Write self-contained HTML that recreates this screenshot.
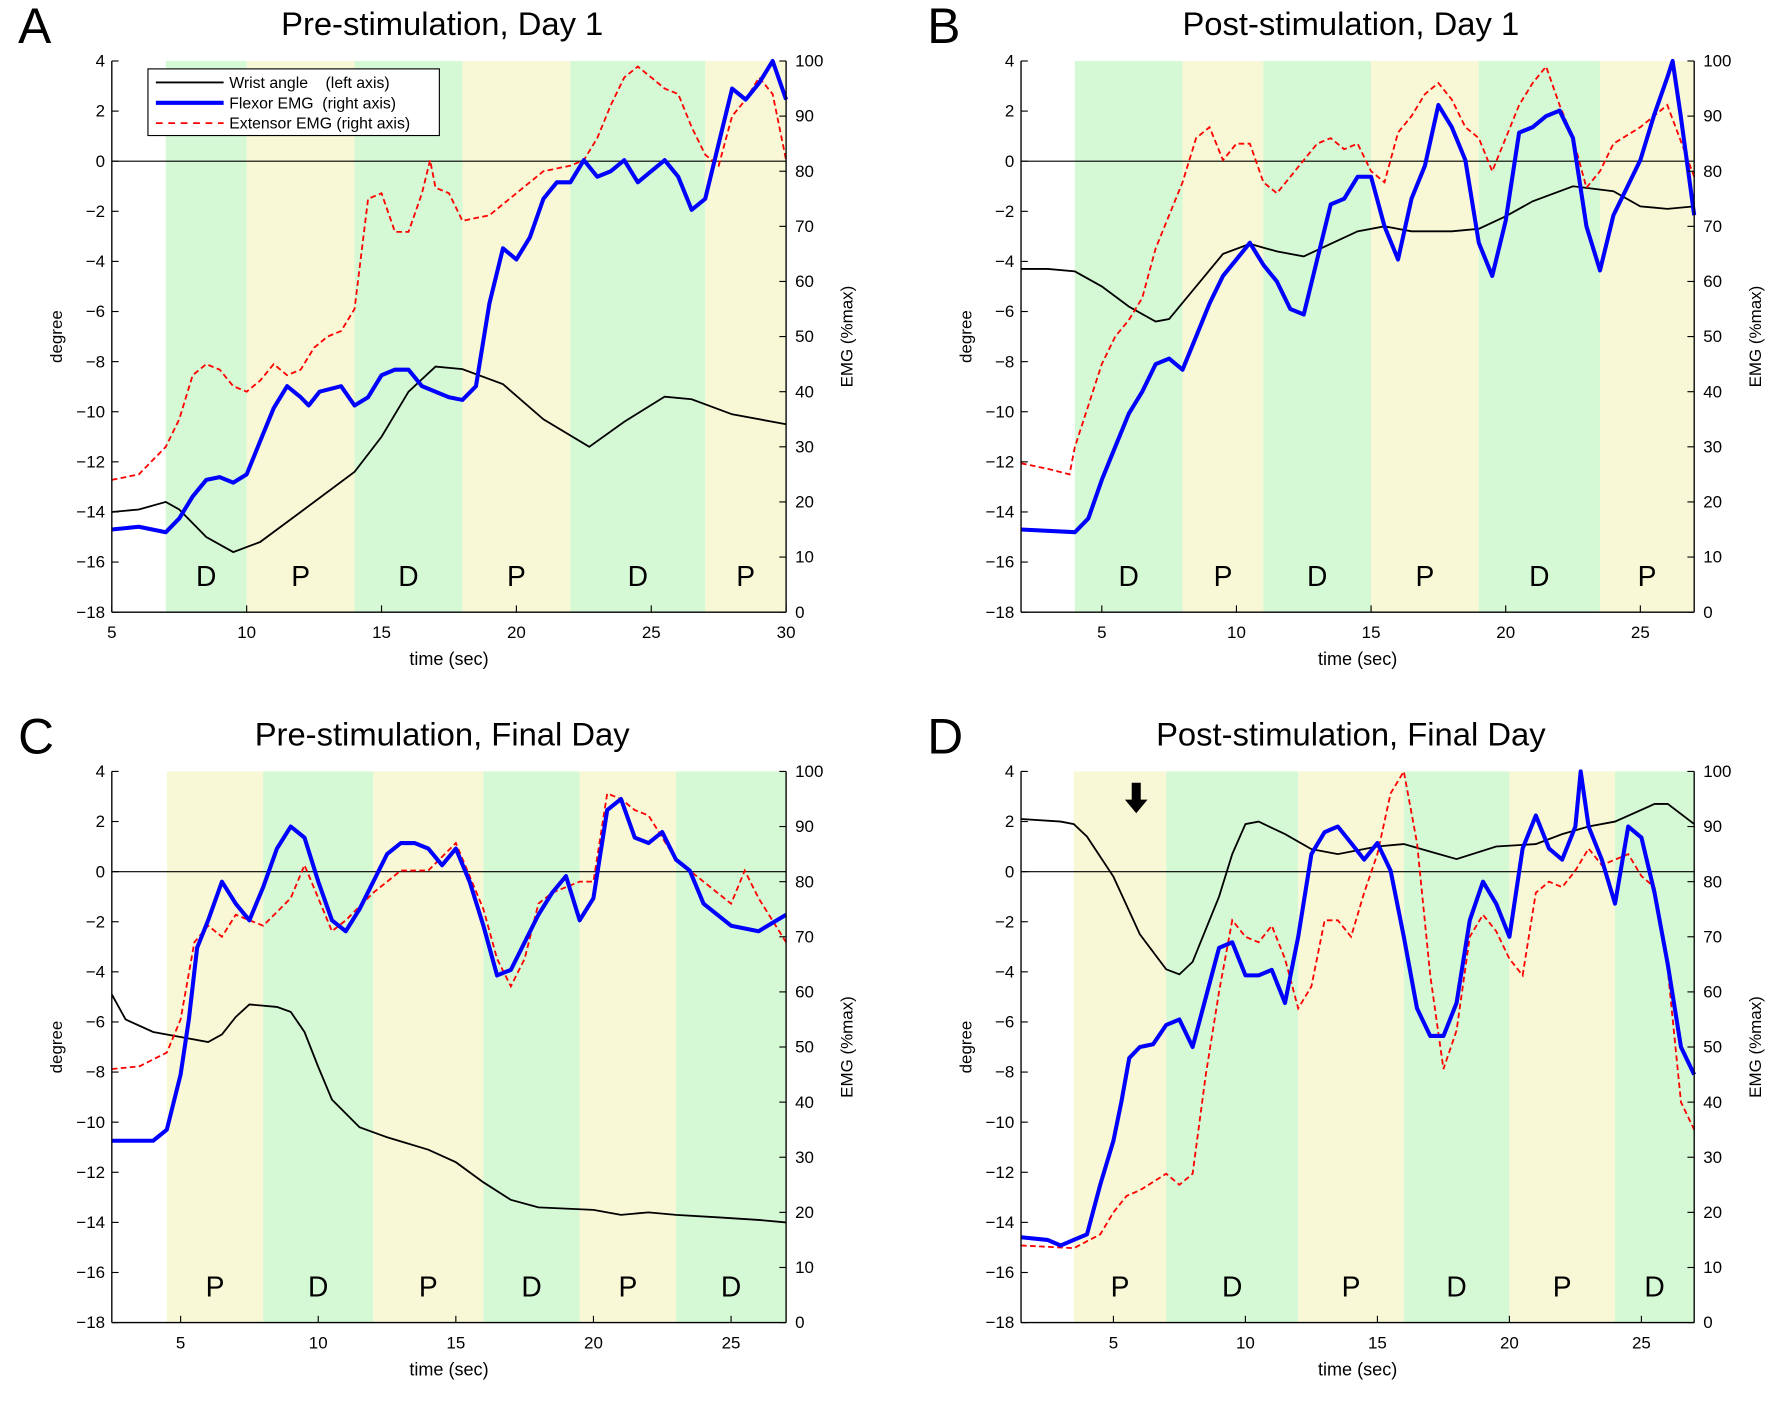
<!DOCTYPE html>
<html><head><meta charset="utf-8"><style>
html,body{margin:0;padding:0;background:#fff;}
svg{display:block;font-family:"Liberation Sans","Noto Sans CJK JP",sans-serif;}
.pre{white-space:pre;}
</style></head><body>
<svg id="fig" width="1771" height="1402" viewBox="0 0 1568 1241.3" xmlns="http://www.w3.org/2000/svg"></svg>
<script>
// ---- data ----
const panelLetters = ["A","B","C","D"];
const panelTitles = ["Pre-stimulation, Day 1","Post-stimulation, Day 1","Pre-stimulation, Final Day","Post-stimulation, Final Day"];
const xRanges = [[5,30],[2,27],[2.5,27],[1.5,27]];
const xTicks = [[5,10,15,20,25,30],[5,10,15,20,25],[5,10,15,20,25],[5,10,15,20,25]];
const leftTicks = [4,2,0,-2,-4,-6,-8,-10,-12,-14,-16,-18];
const rightTicks = [0,10,20,30,40,50,60,70,80,90,100];
const bandStarts = [[7,10,14,18,22,27],[4,8,11,15,19,23.5],[4.5,8,12,16,19.5,23],[3.5,7,12,16,20,24]];
const bandEnds = [[10,14,18,22,27,30],[8,11,15,19,23.5,27],[8,12,16,19.5,23,27],[7,12,16,20,24,27]];
const bandLabels = [["D","P","D","P","D","P"],["D","P","D","P","D","P"],["P","D","P","D","P","D"],["P","D","P","D","P","D"]];

const wristT_A=[5,6,7,7.5,8.5,9.5,10.5,12,14,15,16,17,18,19.5,21,22.7,24,25.5,26.5,28,30];
const wristV_A=[-14,-13.9,-13.6,-13.9,-15,-15.6,-15.2,-14,-12.4,-11,-9.2,-8.2,-8.3,-8.9,-10.3,-11.4,-10.4,-9.4,-9.5,-10.1,-10.5];
const flexT_A=[5,6,7,7.5,8,8.5,9,9.5,10,10.5,11,11.5,12,12.3,12.7,13.5,14,14.5,15,15.5,16,16.5,17,17.5,18,18.5,19,19.5,20,20.5,21,21.5,22,22.5,23,23.5,24,24.5,25,25.5,26,26.5,27,27.5,28,28.5,29,29.5,30];
const flexV_A=[15,15.5,14.5,17,21,24,24.5,23.5,25,31,37,41,39,37.5,40,41,37.5,39,43,44,44,41,40,39,38.5,41,56,66,64,68,75,78,78,82,79,80,82,78,80,82,79,73,75,85,95,93,96,100,93];
const extT_A=[5,6,7,7.5,8,8.5,9,9.5,10,10.5,11,11.5,12,12.5,13,13.5,14,14.2,14.5,15,15.5,16,16.5,16.8,17,17.5,18,19,20,21,22,22.5,23,23.5,24,24.5,25,25.5,26,26.5,27,27.5,28,28.5,29,29.5,30];
const extV_A=[24,25,30,35,43,45,44,41,40,42,45,43,44,48,50,51,55,63,75,76,69,69,76,82,77,76,71,72,76,80,81,82,86,92,97,99,97,95,94,88,83,81,90,93,97,94,82];

const wristT_B=[2,3,4,5,6,7,7.5,8.5,9.5,10.5,11.5,12.5,13.5,14.5,15.5,16.5,18,19,20,21,22.5,24,25,26,27];
const wristV_B=[-4.3,-4.3,-4.4,-5,-5.8,-6.4,-6.3,-5,-3.7,-3.3,-3.6,-3.8,-3.3,-2.8,-2.6,-2.8,-2.8,-2.7,-2.2,-1.6,-1.0,-1.2,-1.8,-1.9,-1.8];
const flexT_B=[2,4,4.5,5,5.5,6,6.5,7,7.5,8,8.5,9,9.5,10,10.5,11,11.5,12,12.5,13,13.5,14,14.5,15,15.5,16,16.5,17,17.5,18,18.5,19,19.5,20,20.5,21,21.5,22,22.5,23,23.5,24,24.5,25,25.5,26,26.2,26.5,27];
const flexV_B=[15,14.5,17,24,30,36,40,45,46,44,50,56,61,64,67,63,60,55,54,64,74,75,79,79,70,64,75,81,92,88,82,67,61,71,87,88,90,91,86,70,62,72,77,82,90,97,100,90,72];
const extT_B=[2,3,3.8,4,5,5.5,6,6.5,7,7.5,8,8.5,9,9.5,10,10.5,11,11.5,12,12.5,13,13.5,14,14.5,15,15.5,16,16.5,17,17.5,18,18.5,19,19.5,20,20.5,21,21.5,22,22.5,23,23.5,24,25,26,27];
const extV_B=[27,26,25,30,45,50,53,57,66,72,78,86,88,82,85,85,78,76,79,82,85,86,84,85,80,78,87,90,94,96,93,88,86,80,86,92,96,99,92,86,77,80,85,88,92,79];

const wristT_C=[2.5,3,4,5,6,6.5,7,7.5,8.5,9,9.5,10,10.5,11.5,12.5,14,15,16,17,18,20,21,22,23,24.5,26,27];
const wristV_C=[-4.9,-5.9,-6.4,-6.6,-6.8,-6.5,-5.8,-5.3,-5.4,-5.6,-6.4,-7.8,-9.1,-10.2,-10.6,-11.1,-11.6,-12.4,-13.1,-13.4,-13.5,-13.7,-13.6,-13.7,-13.8,-13.9,-14];
const flexT_C=[2.5,4,4.5,5,5.3,5.6,6,6.5,7,7.5,8,8.5,9,9.5,10,10.5,11,11.5,12,12.5,13,13.5,14,14.5,15,15.5,16,16.5,17,17.5,18,18.5,19,19.5,20,20.5,21,21.5,22,22.5,23,23.5,24,25,26,27];
const flexV_C=[33,33,35,45,55,68,73,80,76,73,79,86,90,88,80,73,71,75,80,85,87,87,86,83,86,80,72,63,64,69,74,78,81,73,77,93,95,88,87,89,84,82,76,72,71,74];
const extT_C=[2.5,3.5,4.5,5,5.5,6,6.5,7,8,9,9.5,10,10.5,11,12,13,14,15,15.5,16,16.5,17,17.5,18,18.5,19,19.5,20,20.5,21,21.5,22,23,24,25,25.5,26,27];
const extV_C=[46,46.5,49,55,69,72,70,74,72,77,83,77,71,73,78,82,82,87,81,75,66,61,66,76,78,79,80,80,96,95,93,92,84,80,76,82,77,69];

const wristT_D=[1.5,3,3.5,4,5,6,7,7.5,8,9,9.5,10,10.5,11.5,12.5,13.5,15,16,17,18,19.5,21,22,23,24,25.5,26,27];
const wristV_D=[2.1,2.0,1.9,1.4,-0.2,-2.5,-3.9,-4.1,-3.6,-1,0.7,1.9,2.0,1.5,0.9,0.7,1.0,1.1,0.8,0.5,1.0,1.1,1.5,1.8,2.0,2.7,2.7,1.9];
const flexT_D=[1.5,2.5,3,3.5,4,4.5,5,5.3,5.6,6,6.5,7,7.5,8,8.5,9,9.5,10,10.5,11,11.5,12,12.5,13,13.5,14,14.5,15,15.5,16,16.5,17,17.5,18,18.5,19,19.5,20,20.5,21,21.5,22,22.5,22.7,23,23.5,24,24.5,25,25.5,26,26.5,27];
const flexV_D=[15.5,15,14,15,16,25,33,40,48,50,50.5,54,55,50,59,68,69,63,63,64,58,70,85,89,90,87,84,87,82,70,57,52,52,58,73,80,76,70,86,92,86,84,90,100,90,84,76,90,88,78,65,50,45];
const extT_D=[1.5,3.5,4.5,5,5.5,6,7,7.5,8,8.5,9,9.5,10,10.5,11,11.5,12,12.5,13,13.5,14,14.5,15,15.5,16,16.5,17,17.5,18,18.5,19,19.5,20,20.5,21,21.5,22,22.5,23,23.5,24,24.5,25,25.5,26,26.5,27];
const extV_D=[14,13.5,16,20,23,24,27,25,27,45,60,73,70,69,72,66,57,61,73,73,70,78,85,96,100,87,63,46,53,70,74,71,66,63,78,80,79,82,86,83,84,85,81,79,64,40,35];

const wristT=[wristT_A,wristT_B,wristT_C,wristT_D], wristV=[wristV_A,wristV_B,wristV_C,wristV_D];
const flexT=[flexT_A,flexT_B,flexT_C,flexT_D], flexV=[flexV_A,flexV_B,flexV_C,flexV_D];
const extT=[extT_A,extT_B,extT_C,extT_D], extV=[extV_A,extV_B,extV_C,extV_D];

// ---- layout ----
const NS="http://www.w3.org/2000/svg";
const svg=document.getElementById('fig');
const boxes=[{l:99,r:696,t:54,b:542},{l:904,r:1500,t:54,b:542},{l:99,r:696,t:683,b:1171},{l:904,r:1500,t:683,b:1171}];
function mk(tag,attrs,parent,text){const e=document.createElementNS(NS,tag);for(const k in attrs)e.setAttribute(k,attrs[k]);if(text!==undefined)e.textContent=text;(parent||svg).appendChild(e);return e;}

boxes.forEach((bx,p)=>{
  const g=mk('g',{});
  
  
  const [x0,x1]=xRanges[p];
  const X=t=>bx.l+(t-x0)/(x1-x0)*(bx.r-bx.l);
  const YL=d=>bx.b-(d+18)/22*(bx.b-bx.t);
  const YR=v=>bx.b-v/100*(bx.b-bx.t);
  bandStarts[p].forEach((s,i)=>{
    const lab=bandLabels[p][i];
    const r=mk('rect',{x:X(s),y:bx.t,width:X(bandEnds[p][i])-X(s),height:bx.b-bx.t,fill:lab==='D'?'#d5f8d5':'#f8f8d6'},g);
    
    
    const tx=mk('text',{x:(X(s)+X(bandEnds[p][i]))/2,y:bx.b-23,'font-size':25,'text-anchor':'middle',fill:'#000'},g,lab);
    
    
  });
  const z=mk('line',{x1:bx.l,x2:bx.r,y1:YL(0),y2:YL(0),stroke:'#000','stroke-width':1},g);
  
  
  const pts=(T,V,f)=>T.map((t,i)=>X(t).toFixed(1)+','+f(V[i]).toFixed(1)).join(' ');
  const w=mk('polyline',{points:pts(wristT[p],wristV[p],YL),fill:'none',stroke:'#000','stroke-width':1.6},g);
  
  
  const e=mk('polyline',{points:pts(extT[p],extV[p],YR),fill:'none',stroke:'#ff0000','stroke-width':1.6,'stroke-dasharray':'5,3'},g);
  
  
  const f=mk('polyline',{points:pts(flexT[p],flexV[p],YR),fill:'none',stroke:'#0000ff','stroke-width':3.6,'stroke-linejoin':'round'},g);
  
  
  mk('line',{x1:bx.l,x2:bx.l,y1:bx.t,y2:bx.b,stroke:'#000','stroke-width':1.2},g);
  mk('line',{x1:bx.r,x2:bx.r,y1:bx.t,y2:bx.b,stroke:'#000','stroke-width':1.2},g);
  mk('line',{x1:bx.l,x2:bx.r,y1:bx.b,y2:bx.b,stroke:'#000','stroke-width':1.2},g);
  leftTicks.forEach(v=>{
    mk('line',{x1:bx.l,x2:bx.l+6,y1:YL(v),y2:YL(v),stroke:'#000'},g);
    const t=mk('text',{x:bx.l-6,y:YL(v)+5,'font-size':15,'text-anchor':'end'},g,v<0?'\u2212'+(-v):String(v));
    
    
  });
  rightTicks.forEach(v=>{
    mk('line',{x1:bx.r,x2:bx.r-6,y1:YR(v),y2:YR(v),stroke:'#000'},g);
    const t=mk('text',{x:bx.r+8,y:YR(v)+5,'font-size':15},g,String(v));
    
    
  });
  xTicks[p].forEach(v=>{
    mk('line',{x1:X(v),x2:X(v),y1:bx.b,y2:bx.b-6,stroke:'#000'},g);
    const t=mk('text',{x:X(v),y:bx.b+23,'font-size':15,'text-anchor':'middle'},g,String(v));
    
    
  });
  const xt=mk('text',{x:(bx.l+bx.r)/2,y:bx.b+47,'font-size':16,'text-anchor':'middle'},g,'time (sec)');
  
  
  const cy=(bx.t+bx.b)/2;
  const yl=mk('text',{x:0,y:0,'font-size':15,'text-anchor':'middle',transform:`translate(${bx.l-44},${cy}) rotate(-90)`},g,'degree');
  
  
  const yr=mk('text',{x:0,y:0,'font-size':15,'text-anchor':'middle',transform:`translate(${bx.r+59},${cy}) rotate(-90)`},g,'EMG (%max)');
  
  
  const ti=mk('text',{x:(bx.l+bx.r)/2-6,y:bx.t-23,'font-size':29,'text-anchor':'middle'},g,panelTitles[p]);
  
  
  const le=mk('text',{x:bx.l-83,y:bx.t-16,'font-size':44},g,panelLetters[p]);
  
  
});

const lg=mk('g',{});


mk('rect',{x:131,y:61,width:258,height:59,fill:'#fff',stroke:'#000','stroke-width':1},lg);
const legendNames=['Wrist angle    (left axis)','Flexor EMG  (right axis)','Extensor EMG (right axis)'];
const legendStyles=[{stroke:'#000','stroke-width':1.6},{stroke:'#0000ff','stroke-width':3.6},{stroke:'#ff0000','stroke-width':1.6,'stroke-dasharray':'6,5'}];
legendNames.forEach((n,i)=>{
  const y=73+i*18;
  mk('line',Object.assign({x1:138,x2:198,y1:y,y2:y},legendStyles[i]),lg);
  const t=mk('text',{x:203,y:y+5,'font-size':14,'class':'pre'},lg,n);
  
  
});
const ar=mk('path',{d:'M1002,693 h8 v15 h6 l-10,12 l-10,-12 h6 z',fill:'#000'});


</script>
</body></html>
